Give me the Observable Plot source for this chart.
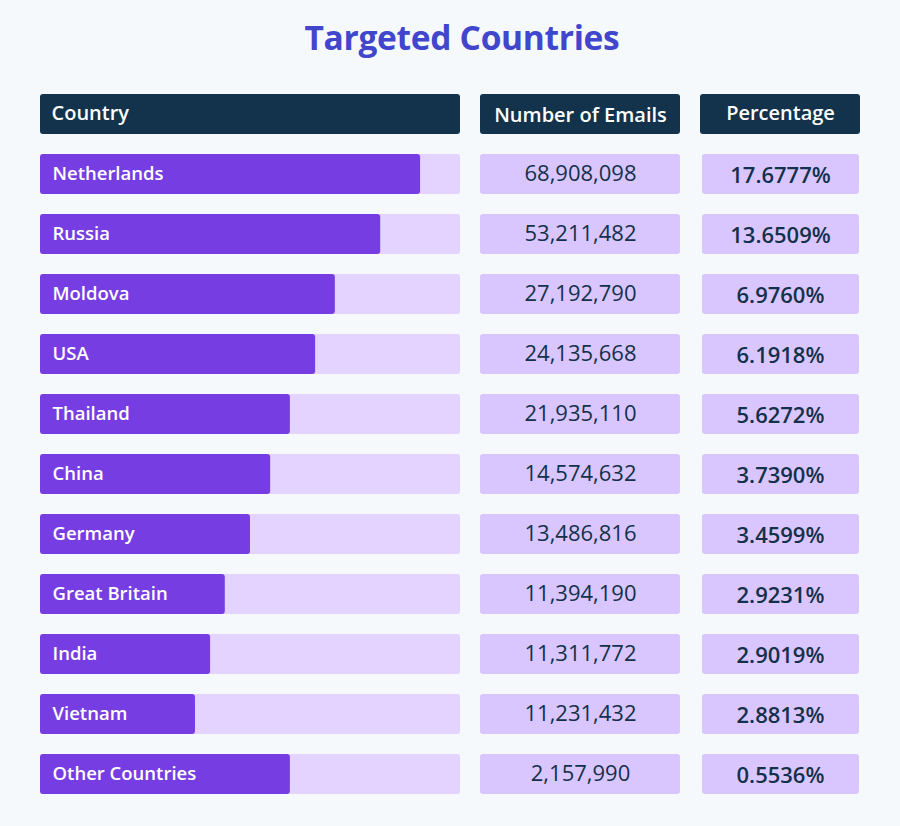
<!DOCTYPE html>
<html>
<head>
<meta charset="utf-8">
<script src="https://cdn.jsdelivr.net/npm/d3@7"></script>
<script src="https://cdn.jsdelivr.net/npm/@observablehq/plot@0.6"></script>
<style>
  html, body { margin: 0; padding: 0; background: #f6f9fc; }
  #wrap { width: 900px; height: 826px; overflow: hidden; }
  #title { height: 75px; line-height: 74px; text-align: center; padding-left: 24px; box-sizing: border-box; font-family: "Open Sans", sans-serif; font-weight: 700; font-size: 33.5px; color: #4146cc; letter-spacing: -0.3px; }
  #row { display: flex; }
  #row svg { display: block; }
</style>
</head>
<body>
<div id="wrap">
  <div id="title">Targeted Countries</div>
  <div id="row"></div>
</div>
<script>
const headers = ["Country", "Number of Emails", "Percentage"];
const countries = ["Netherlands", "Russia", "Moldova", "USA", "Thailand", "China", "Germany", "Great Britain", "India", "Vietnam", "Other Countries"];
const emails = [68908098, 53211482, 27192790, 24135668, 21935110, 14574632, 13486816, 11394190, 11311772, 11231432, 2157990];
const percentages = [17.6777, 13.6509, 6.9760, 6.1918, 5.6272, 3.7390, 3.4599, 2.9231, 2.9019, 2.8813, 0.5536];
// bar fill (share of the track, in %), as drawn in the reference
const barFill = [90.5, 81, 70.2, 65.5, 59.5, 54.8, 50, 44, 40.5, 36.9, 59.5];

const rows = countries.map((c, i) => ({country: c, emails: emails[i], pct: percentages[i], fill: barFill[i]}));

const NAVY = "#12334b", PURPLE = "#763ee2", TRACK = "#e3d3fe", CELL = "#dac6fe", TXT = "#13314a";
const HEAD = "__header";
const H = 751;
const yScale = {type: "band", domain: [HEAD, ...countries], range: [19, 719], paddingInner: 1/3, paddingOuter: 0, axis: null};
const style = {fontFamily: "'Open Sans', sans-serif", background: "transparent", overflow: "visible"};
const fmt = d3.format(",");

const countryPlot = Plot.plot({
  width: 460, height: H, marginLeft: 40, marginRight: 0, marginTop: 0, marginBottom: 0,
  style,
  x: {domain: [0, 100], axis: null},
  y: yScale,
  marks: [
    Plot.barX([headers[0]], {x1: 0, x2: 100, y: () => HEAD, fill: NAVY, rx: 3}),
    Plot.text([headers[0]], {x: 0, y: () => HEAD, text: d => d, textAnchor: "start", dx: 11, dy: -1, fill: "white", fontWeight: 600, fontSize: 20}),
    Plot.barX(rows, {x1: 0, x2: 100, y: "country", fill: TRACK, rx: 3}),
    Plot.barX(rows, {x1: 0, x2: "fill", y: "country", fill: PURPLE, rx: 3}),
    Plot.text(rows, {x: 0, y: "country", text: "country", textAnchor: "start", dx: 12, fill: "white", fontWeight: 600, fontSize: 18.5})
  ]
});

const emailPlot = Plot.plot({
  width: 220, height: H, marginLeft: 20, marginRight: 0, marginTop: 0, marginBottom: 0,
  style,
  x: {domain: [0, 1], axis: null},
  y: yScale,
  marks: [
    Plot.barX([headers[1]], {x1: 0, x2: 1, y: () => HEAD, fill: NAVY, rx: 3}),
    Plot.text([headers[1]], {x: 0.5, y: () => HEAD, text: d => d, fill: "white", fontWeight: 600, fontSize: 20, dy: 1}),
    Plot.barX(rows, {x1: 0, x2: 1, y: "country", fill: CELL, rx: 3}),
    Plot.text(rows, {x: 0.5, y: "country", text: d => fmt(d.emails), fill: TXT, fontSize: 22, dy: -1})
  ]
});

const pctPlot = Plot.plot({
  width: 220, height: H, marginLeft: 20, marginRight: 40, marginTop: 0, marginBottom: 0,
  style,
  x: {domain: [0, 1], axis: null},
  y: yScale,
  marks: [
    Plot.barX([headers[2]], {x1: 0, x2: 1, y: () => HEAD, fill: NAVY, rx: 3}),
    Plot.text([headers[2]], {x: 0.5, y: () => HEAD, text: d => d, fill: "white", fontWeight: 600, fontSize: 20, dy: -1}),
    Plot.barX(rows, {x1: 0, x2: 1, y: "country", fill: CELL, rx: 3, insetLeft: 2, insetRight: 1}),
    Plot.text(rows, {x: 0.5, y: "country", text: d => d.pct.toFixed(4) + "%", fill: TXT, fontWeight: 600, fontSize: 22, dy: 1})
  ]
});

const row = document.getElementById("row");
row.appendChild(countryPlot);
row.appendChild(emailPlot);
row.appendChild(pctPlot);
</script>
</body>
</html>
